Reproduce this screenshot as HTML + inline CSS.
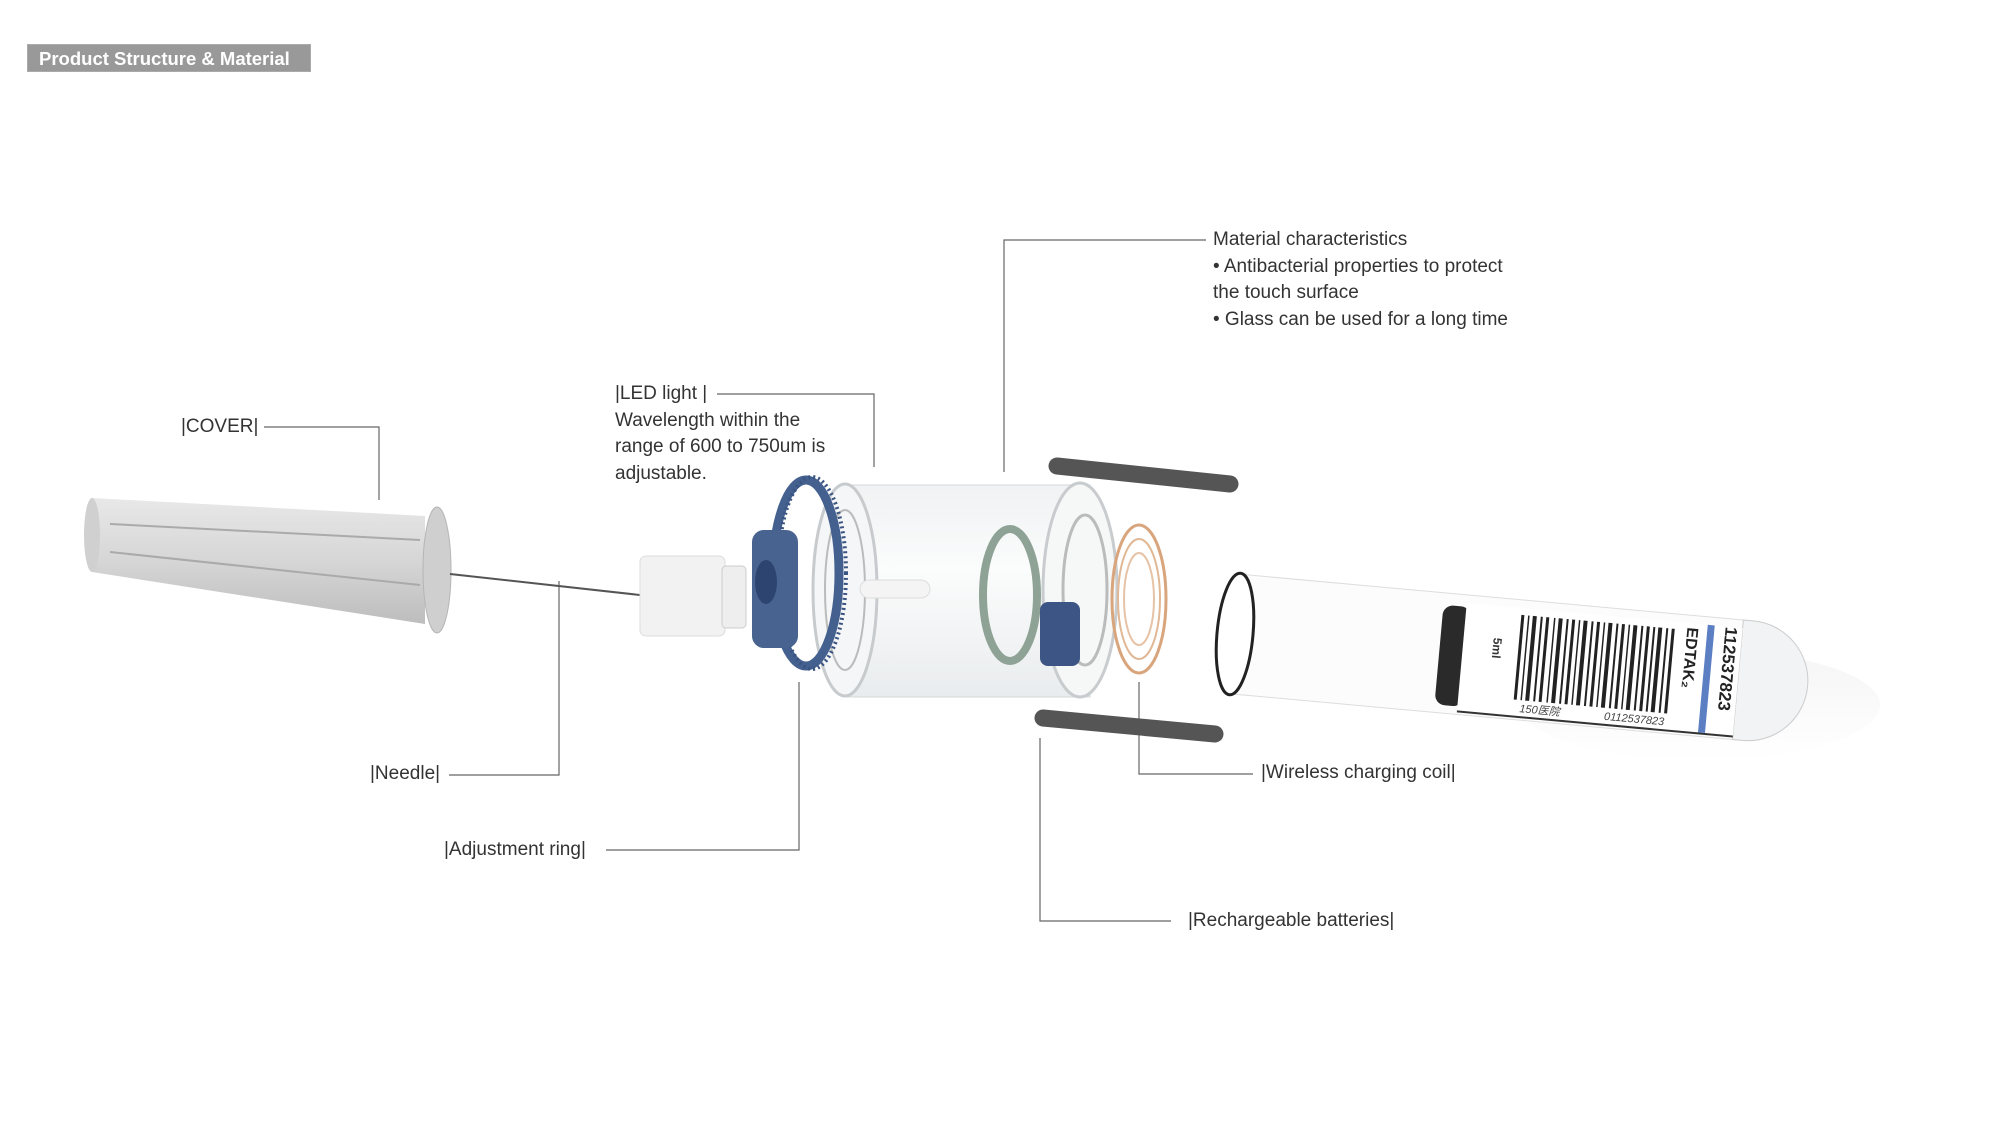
<!DOCTYPE html>
<html><head><meta charset="utf-8"><style>
html,body{margin:0;padding:0;background:#fff;}
body{width:2000px;height:1125px;position:relative;overflow:hidden;font-family:"Liberation Sans",sans-serif;}
.t{position:absolute;font-size:19px;color:#333;line-height:26.5px;white-space:nowrap;}
.title{position:absolute;left:27px;top:44px;width:284px;height:28px;background:#999;border:1px solid #aaa;color:#fff;font-weight:bold;font-size:18.5px;line-height:28px;padding-left:11px;box-sizing:border-box;}
</style></head><body>
<div class="title">Product Structure &amp; Material</div>

<svg width="2000" height="1125" style="position:absolute;left:0;top:0">
<defs>
<linearGradient id="cv" x1="0" y1="0" x2="0" y2="1"><stop offset="0" stop-color="#e8e8e8"/><stop offset=".5" stop-color="#d6d6d6"/><stop offset="1" stop-color="#bdbdbd"/></linearGradient>
<linearGradient id="cyl" x1="0" y1="0" x2="0" y2="1"><stop offset="0" stop-color="#f0f2f3"/><stop offset=".4" stop-color="#fbfcfc"/><stop offset="1" stop-color="#e9ecee"/></linearGradient>
<linearGradient id="sh" x1="0" y1="0" x2="0" y2="1"><stop offset="0" stop-color="#f3f3f3"/><stop offset="1" stop-color="#fff"/></linearGradient>
</defs>
<g stroke="#666" stroke-width="1.2" fill="none">
<polyline points="1004,472 1004,240 1206,240"/>
<polyline points="717,394 874,394 874,467"/>
<polyline points="264,427 379,427 379,500"/>
<polyline points="449,775 559,775 559,581"/>
<polyline points="606,850 799,850 799,682"/>
<polyline points="1171,921 1040,921 1040,738"/>
<polyline points="1253,774 1139,774 1139,682"/>
</g>
<ellipse cx="1700" cy="705" rx="180" ry="55" fill="url(#sh)" opacity=".8"/>
<!-- cover -->
<polygon points="92,498 425,516 425,624 92,572" fill="url(#cv)"/>
<line x1="110" y1="524" x2="420" y2="540" stroke="#aaa" stroke-width="2"/>
<line x1="110" y1="552" x2="420" y2="585" stroke="#aaa" stroke-width="2"/>
<ellipse cx="92" cy="535" rx="8" ry="37" fill="#d0d0d0"/>
<ellipse cx="437" cy="570" rx="14" ry="63" fill="#cfcfcf" stroke="#b5b5b5"/>
<!-- needle -->
<line x1="450" y1="574" x2="640" y2="595" stroke="#555" stroke-width="2"/>
<rect x="640" y="556" width="85" height="80" rx="6" fill="#f2f2f2" stroke="#ddd"/>
<rect x="722" y="566" width="24" height="62" rx="4" fill="#eee" stroke="#ccc"/>
<!-- cylinder -->
<rect x="845" y="485" width="245" height="212" fill="url(#cyl)" stroke="#d4d8da"/>
<ellipse cx="845" cy="590" rx="32" ry="106" fill="#f4f6f7" stroke="#c7cbce" stroke-width="3"/>
<ellipse cx="845" cy="590" rx="20" ry="80" fill="none" stroke="#bbb" stroke-width="2"/>
<rect x="860" y="580" width="70" height="18" rx="9" fill="#f4f4f4" stroke="#ddd"/>
<ellipse cx="1010" cy="595" rx="27" ry="66" fill="none" stroke="#8ea395" stroke-width="8"/>
<ellipse cx="1080" cy="590" rx="37" ry="107" fill="#f6f8f8" stroke="#c8ccce" stroke-width="3"/>
<ellipse cx="1085" cy="590" rx="22" ry="75" fill="none" stroke="#bbb" stroke-width="3"/>
<rect x="1040" y="602" width="40" height="64" rx="8" fill="#3c5585"/>
<!-- coil -->
<ellipse cx="1139" cy="599" rx="27" ry="74" fill="none" stroke="#d9a57d" stroke-width="3"/>
<ellipse cx="1139" cy="599" rx="21" ry="60" fill="none" stroke="#e0b896" stroke-width="2"/>
<ellipse cx="1139" cy="599" rx="15" ry="46" fill="none" stroke="#e6c3a6" stroke-width="2"/>
<!-- adjustment ring -->
<ellipse cx="806" cy="573" rx="33" ry="93" fill="none" stroke="#44608f" stroke-width="9"/>
<ellipse cx="812" cy="573" rx="34" ry="96" fill="none" stroke="#3a5482" stroke-width="4" stroke-dasharray="2 3"/>
<rect x="752" y="530" width="46" height="118" rx="12" fill="#48638f"/>
<ellipse cx="766" cy="582" rx="11" ry="22" fill="#2e4470"/>
<!-- rods -->
<line x1="1057" y1="466" x2="1230" y2="484" stroke="#555" stroke-width="17" stroke-linecap="round"/>
<line x1="1043" y1="718" x2="1215" y2="734" stroke="#555" stroke-width="17" stroke-linecap="round"/>
<!-- tube -->
<g transform="translate(1235,634) rotate(5.2)">
<rect x="0" y="-60" width="510" height="120" fill="#fcfcfc" stroke="#ddd"/>
<path d="M505,-60 L515,-60 A60,60 0 0 1 515,60 L505,60 Z" fill="#f1f3f4" stroke="#ccc"/>
<rect x="205" y="-48" width="28" height="100" rx="10" fill="#2a2a2a"/>
<rect x="228" y="-52" width="277" height="108" fill="#fff"/>
<line x1="228" y1="57" x2="505" y2="57" stroke="#333" stroke-width="2"/>
<g stroke="#222">
<line x1="285" y1="-45" x2="285" y2="40" stroke-width="3"/><line x1="291" y1="-45" x2="291" y2="40" stroke-width="1.5"/>
<line x1="297" y1="-45" x2="297" y2="40" stroke-width="4"/><line x1="304" y1="-45" x2="304" y2="40" stroke-width="2"/>
<line x1="310" y1="-45" x2="310" y2="40" stroke-width="3"/><line x1="317" y1="-45" x2="317" y2="40" stroke-width="1.5"/>
<line x1="323" y1="-45" x2="323" y2="40" stroke-width="4"/><line x1="330" y1="-45" x2="330" y2="40" stroke-width="2"/>
<line x1="336" y1="-45" x2="336" y2="40" stroke-width="3"/><line x1="342" y1="-45" x2="342" y2="40" stroke-width="1.5"/>
<line x1="348" y1="-45" x2="348" y2="40" stroke-width="4"/><line x1="355" y1="-45" x2="355" y2="40" stroke-width="2"/>
<line x1="361" y1="-45" x2="361" y2="40" stroke-width="3"/><line x1="367" y1="-45" x2="367" y2="40" stroke-width="1.5"/>
<line x1="373" y1="-45" x2="373" y2="40" stroke-width="4"/><line x1="380" y1="-45" x2="380" y2="40" stroke-width="2"/>
<line x1="386" y1="-45" x2="386" y2="40" stroke-width="3"/><line x1="392" y1="-45" x2="392" y2="40" stroke-width="1.5"/>
<line x1="398" y1="-45" x2="398" y2="40" stroke-width="4"/><line x1="405" y1="-45" x2="405" y2="40" stroke-width="2"/>
<line x1="411" y1="-45" x2="411" y2="40" stroke-width="3"/><line x1="417" y1="-45" x2="417" y2="40" stroke-width="2"/>
<line x1="423" y1="-45" x2="423" y2="40" stroke-width="4"/><line x1="430" y1="-45" x2="430" y2="40" stroke-width="2"/>
<line x1="436" y1="-45" x2="436" y2="40" stroke-width="3"/>
</g>
<rect x="470" y="-52" width="7" height="108" fill="#5c7fc4"/>
<text x="290" y="52" font-size="11" fill="#444" font-style="italic">150医院</text>
<text x="375" y="52" font-size="11" fill="#444" font-style="italic">0112537823</text>
<text transform="translate(258,-20) rotate(90)" font-size="12" fill="#333" font-weight="bold">5ml</text>
<text transform="translate(450,-48) rotate(90)" font-size="16" fill="#222" font-weight="bold">EDTAK₂</text>
<text transform="translate(488,-52) rotate(90)" font-size="17" fill="#222" font-weight="bold">112537823</text>
<ellipse cx="0" cy="0" rx="18" ry="61" fill="#fff" stroke="#222" stroke-width="3"/>
</g>
</svg>

<div class="t" style="left:1213px;top:227px">Material characteristics<br>• Antibacterial properties to protect<br>the touch surface<br>• Glass can be used for a long time</div>
<div class="t" style="left:615px;top:381px">|LED light |<br>Wavelength within the<br>range of 600 to 750um is<br>adjustable.</div>
<div class="t" style="left:181px;top:414px">|COVER|</div>
<div class="t" style="left:370px;top:761px">|Needle|</div>
<div class="t" style="left:444px;top:837px">|Adjustment ring|</div>
<div class="t" style="left:1261px;top:760px">|Wireless charging coil|</div>
<div class="t" style="left:1188px;top:908px">|Rechargeable batteries|</div>
</body></html>
